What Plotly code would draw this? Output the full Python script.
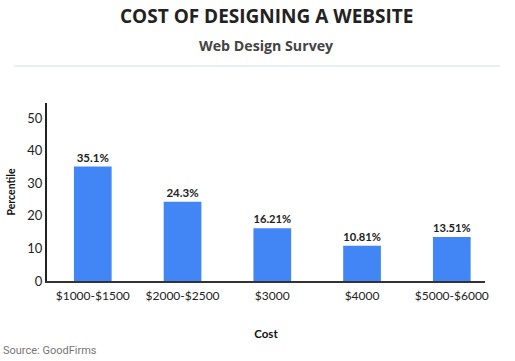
import plotly.graph_objects as go

categories = ["$1000-$1500", "$2000-$2500", "$3000", "$4000", "$5000-$6000"]
values = [35.1, 24.3, 16.21, 10.81, 13.51]
labels = ["35.1%", "24.3%", "16.21%", "10.81%", "13.51%"]
y_ticks = [0, 10, 20, 30, 40, 50]

font_family = "Lato, Open Sans, Arial, sans-serif"
title_family = "Open Sans, Lato, Arial, sans-serif"

fig = go.Figure(go.Bar(
    x=list(range(len(categories))),
    y=values,
    text=labels,
    textposition="outside",
    textfont=dict(family=font_family, size=11.5, color="#222222", weight="bold"),
    marker=dict(color="#4285F4", line=dict(width=0)),
    width=0.42,
    cliponaxis=False,
))

fig.update_layout(
    width=515, height=361,
    margin=dict(l=47, r=30, t=103, b=80),
    paper_bgcolor="white", plot_bgcolor="white",
    showlegend=False,
    font=dict(family=font_family, color="#222222"),
    xaxis=dict(
        range=[-0.51, 4.37], automargin=False,
        tickmode="array", tickvals=list(range(len(categories))), ticktext=categories,
        showline=True, linecolor="#333333", linewidth=2,
        showgrid=False, zeroline=False, ticks="", ticklabelstandoff=3,
        tickfont=dict(size=12, color="#222222"),
        title=dict(text="<b>Cost</b>", font=dict(size=11.5, color="#111111"), standoff=28),
    ),
    yaxis=dict(
        range=[0, 54.6], automargin=False,
        tickmode="array", tickvals=y_ticks,
        showline=True, linecolor="#222222", linewidth=2,
        showgrid=False, zeroline=False, ticks="",
        tickfont=dict(size=13, color="#222222"),
        title=dict(text="<b>Percentile</b>", font=dict(size=10.5, color="#111111"), standoff=10),
    ),
)

fig.add_annotation(text="<b>COST OF DESIGNING A WEBSITE</b>", xref="paper", yref="paper",
                   x=0.5, y=1.0, yshift=87, yanchor="middle", showarrow=False,
                   font=dict(family=title_family, size=19, color="#222222"))
fig.add_annotation(text="<b>Web Design Survey</b>", xref="paper", yref="paper",
                   x=0.5, y=1.0, yshift=58, yanchor="middle", showarrow=False,
                   font=dict(family=title_family, size=14.2, color="#444444"))
fig.add_annotation(text="Source: GoodFirms", xref="paper", yref="paper",
                   x=0, xshift=-46, xanchor="left", y=0, yshift=-69, yanchor="middle",
                   showarrow=False,
                   font=dict(family="Roboto, Arial, sans-serif", size=11, color="#777777"))
fig.add_shape(type="line", xref="paper", yref="paper", ysizemode="pixel", yanchor=1.0,
              x0=-0.0753, x1=1.034, y0=37, y1=37,
              line=dict(color="#E3EAF2", width=1.5))

fig.write_html("out.html", config={"displayModeBar": False},
               post_script="document.body.style.margin='0';document.body.style.padding='0';")
